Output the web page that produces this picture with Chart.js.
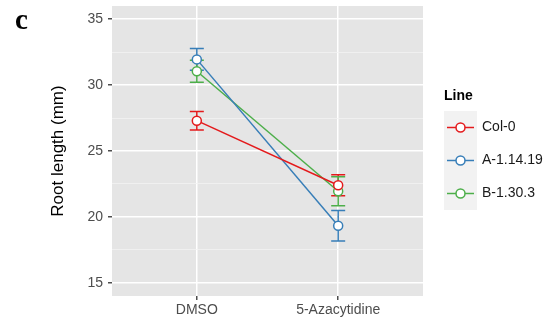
<!DOCTYPE html>
<html>
<head>
    <meta charset="UTF-8">
    <title>Root length</title>
    <style>
        body { margin: 0; background: #fff; }
        #chart-container { width: 547px; height: 320px; }
    </style>
</head>
<body>
    <script src="https://cdn.jsdelivr.net/npm/chart.js@4/dist/chart.umd.min.js"></script>
    <div id="chart-container">
        <canvas id="chart" width="547" height="320"></canvas>
    </div>
    <script>
        // data
        let conditions = ["DMSO", "5-Azacytidine"];
        let lineNames = ["Col-0", "A-1.14.19", "B-1.30.3"];
        let col0Mean = [27.3, 22.4];
        let col0Err = [0.7, 0.8];
        let a11419Mean = [31.95, 19.33];
        let a11419Err = [0.83, 1.15];
        let b1303Mean = [31.05, 21.95];
        let b1303Err = [0.83, 1.1];
        let yTicks = [15, 17.5, 20, 22.5, 25, 27.5, 30, 32.5, 35];

        let colors = ["#E41A1C", "#377EB8", "#4DAF4A"];
        let means = [col0Mean, a11419Mean, b1303Mean];
        let errs = [col0Err, a11419Err, b1303Err];

        function points(arr) {
            return arr.map(function (v, i) { return { x: i + 1, y: v }; });
        }

        // grey panel behind the plot
        const panelBg = {
            id: "panelBg",
            beforeDraw(chart) {
                const a = chart.chartArea, ctx = chart.ctx;
                ctx.save();
                ctx.fillStyle = "#E5E5E5";
                ctx.fillRect(a.left, a.top, a.right - a.left, a.bottom - a.top);
                ctx.restore();
            }
        };

        // error bars under the points
        const errorBars = {
            id: "errorBars",
            beforeDatasetsDraw(chart) {
                const ctx = chart.ctx, xs = chart.scales.x, ys = chart.scales.y;
                ctx.save();
                ctx.lineWidth = 1.5;
                chart.data.datasets.forEach(function (ds, d) {
                    ctx.strokeStyle = ds.borderColor;
                    ds.data.forEach(function (p, i) {
                        const e = errs[d][i];
                        const px = xs.getPixelForValue(p.x);
                        const top = ys.getPixelForValue(p.y + e);
                        const bot = ys.getPixelForValue(p.y - e);
                        ctx.beginPath();
                        ctx.moveTo(px, top); ctx.lineTo(px, bot);
                        ctx.moveTo(px - 7, top); ctx.lineTo(px + 7, top);
                        ctx.moveTo(px - 7, bot); ctx.lineTo(px + 7, bot);
                        ctx.stroke();
                    });
                });
                ctx.restore();
            }
        };

        // ggplot style legend and panel letter
        const extras = {
            id: "extras",
            afterDraw(chart) {
                const ctx = chart.ctx;
                ctx.save();
                ctx.fillStyle = "#000";
                ctx.font = "bold 29px 'Liberation Serif'";
                ctx.textBaseline = "alphabetic";
                ctx.fillText("c", 15, 29);

                ctx.font = "bold 14px 'Liberation Sans'";
                ctx.textBaseline = "middle";
                ctx.fillText("Line", 444, 96);

                chart.data.datasets.forEach(function (ds, i) {
                    const top = 111 + i * 33;
                    const cy = top + 16.5;
                    ctx.fillStyle = "#F2F2F2";
                    ctx.fillRect(444, top, 33, 33);
                    ctx.strokeStyle = ds.borderColor;
                    ctx.lineWidth = 1.5;
                    ctx.beginPath();
                    ctx.moveTo(447, cy); ctx.lineTo(474, cy);
                    ctx.stroke();
                    ctx.beginPath();
                    ctx.arc(460.5, cy, 4.5, 0, Math.PI * 2);
                    ctx.fillStyle = "#fff";
                    ctx.fill();
                    ctx.stroke();
                    ctx.fillStyle = "#1A1A1A";
                    ctx.font = "14px 'Liberation Sans'";
                    ctx.fillText(ds.label, 482, cy);
                });
                ctx.restore();
            }
        };

        let context = document.getElementById("chart").getContext("2d");
        let chart = new Chart(context, {
            type: "line",
            data: {
                datasets: lineNames.map(function (name, i) {
                    return {
                        label: name,
                        data: points(means[i]),
                        borderColor: colors[i],
                        backgroundColor: "#fff",
                        borderWidth: 1.5,
                        pointRadius: 4.5,
                        pointBorderWidth: 1.5,
                        pointBackgroundColor: "#fff",
                        fill: false,
                        tension: 0
                    };
                })
            },
            options: {
                responsive: false,
                animation: false,
                layout: { padding: { left: 0, top: 6, right: 124, bottom: 0 } },
                plugins: { legend: { display: false }, tooltip: { enabled: false } },
                scales: {
                    x: {
                        type: "linear",
                        min: 0.4,
                        max: 2.6,
                        afterBuildTicks: function (s) { s.ticks = [{ value: 1 }, { value: 2 }]; },
                        afterFit: function (s) { s.height = 24; s.paddingLeft = 0; s.paddingRight = 0; },
                        ticks: {
                            color: "#4D4D4D",
                            font: { family: "Liberation Sans", size: 14 },
                            padding: 2,
                            callback: function (v) { return conditions[v - 1]; }
                        },
                        grid: { color: "#FFFFFF", lineWidth: 1.5, tickColor: "#4D4D4D", tickLength: 4 },
                        border: { display: false }
                    },
                    y: {
                        min: 14,
                        max: 36,
                        afterBuildTicks: function (s) { s.ticks = yTicks.map(function (v) { return { value: v }; }); },
                        afterFit: function (s) { s.width = 112; s.paddingTop = 0; s.paddingBottom = 0; },
                        ticks: {
                            color: "#4D4D4D",
                            font: { family: "Liberation Sans", size: 14 },
                            padding: 5,
                            callback: function (v) { return v % 5 === 0 ? v : ""; }
                        },
                        grid: {
                            color: function (c) { return c.tick && c.tick.value % 5 === 0 ? "#FFFFFF" : "#F2F2F2"; },
                            lineWidth: function (c) { return c.tick && c.tick.value % 5 === 0 ? 1.5 : 0.8; },
                            tickColor: function (c) { return c.tick && c.tick.value % 5 === 0 ? "#4D4D4D" : "rgba(0,0,0,0)"; },
                            tickLength: 4
                        },
                        border: { display: false },
                        title: {
                            display: true,
                            text: "Root length (mm)",
                            color: "#000",
                            font: { family: "Liberation Sans", size: 17 },
                            padding: { top: 48, bottom: 0 }
                        }
                    }
                }
            },
            plugins: [panelBg, errorBars, extras]
        });
    </script>
</body>
</html>
